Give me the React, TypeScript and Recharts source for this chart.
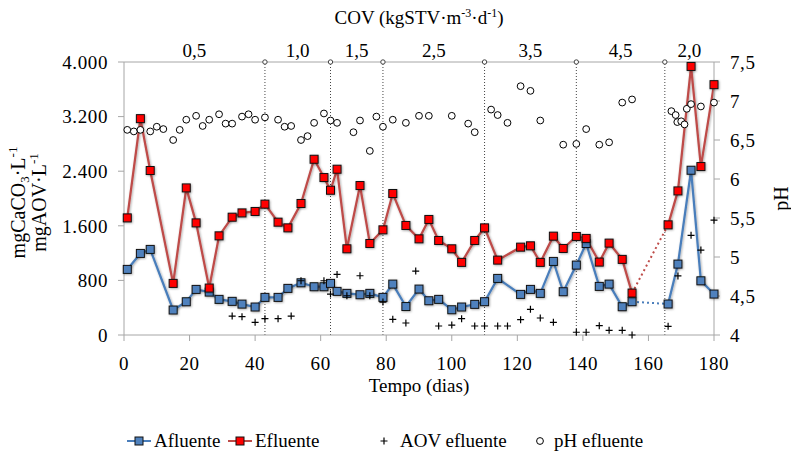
import React from "react";
import {
  ComposedChart,
  Line,
  Scatter,
  XAxis,
  YAxis,
  ReferenceLine,
  ReferenceDot,
  Label,
} from "recharts";

const FONT = "Liberation Serif, serif";

// sampling days for afluente / efluente alkalinity
const sampleDays = [
  1, 5, 8, 15, 19, 22, 26, 29, 33, 36, 40, 43, 47, 50, 54, 58, 61, 63, 65, 68,
  72, 75, 79, 82, 86, 90, 93, 96, 100, 103, 107, 110, 114, 121, 124, 127, 131,
  134, 138, 141, 145, 148, 152, 155, 166, 169, 173, 176, 180,
];

const afluente = [
  961, 1195, 1254, 366, 487, 668, 629, 522, 493, 453, 410, 551, 551, 683, 765,
  707, 707, 756, 639, 610, 590, 610, 551, 746, 417, 673, 502, 522, 370, 410,
  449, 488, 829, 595, 668, 610, 1078, 634, 1024, 1341, 712, 746, 414, 488, 454,
  1039, 2414, 794, 600,
];

const efluente = [
  1716, 3170, 2410, 756, 2155, 1643, 688, 1453, 1726, 1789, 1810, 1917, 1653,
  1570, 1927, 2575, 2307, 2121, 2429, 1263, 2190, 1341, 1541, 2073, 1605, 1409,
  1693, 1385, 1263, 1064, 1385, 1570, 1097, 1287, 1307, 1064, 1448, 1268, 1444,
  1415, 1068, 1346, 1108, 614, 1614, 2111, 3935, 2468, 3668,
];

// volatile acids in the effluent
const aovDays = [
  33, 36, 40, 43, 47, 51, 54, 61, 63, 65, 68, 72, 75, 79, 82, 86, 89, 96, 100,
  103, 107, 110, 114, 117, 121, 124, 127, 131, 138, 141, 145, 148, 152, 155,
  166, 169, 173, 176, 180,
];
const aovValues = [
  278, 268, 186, 239, 239, 278, 795, 795, 600, 888, 575, 868, 575, 483, 230,
  176, 936, 132, 146, 239, 132, 132, 132, 132, 224, 376, 249, 186, 40, 40, 136,
  69, 69, 0, 127, 865, 1460, 1244, 1683,
];

// effluent pH
const phDays = [
  1, 3, 5, 8, 10, 12, 15, 17, 19, 22, 24, 26, 29, 31, 33, 36, 38, 40, 43, 47,
  49, 51, 54, 56, 58, 61, 63, 65, 70, 72, 75, 77, 79, 82, 86, 90, 93, 100, 105,
  107, 112, 114, 117, 121, 124, 127, 134, 138, 141, 145, 148, 152, 155, 167,
  168.3, 168.8, 170, 171, 171.7, 173, 176, 180,
];
const phValues = [
  6.63, 6.61, 6.63, 6.61, 6.67, 6.64, 6.5, 6.63, 6.76, 6.81, 6.68, 6.76, 6.83,
  6.71, 6.71, 6.8, 6.83, 6.76, 6.79, 6.76, 6.67, 6.68, 6.5, 6.55, 6.72, 6.84,
  6.75, 6.72, 6.6, 6.75, 6.36, 6.8, 6.67, 6.76, 6.72, 6.81, 6.81, 6.81, 6.71,
  6.6, 6.89, 6.82, 6.72, 7.19, 7.13, 6.75, 6.44, 6.45, 6.64, 6.44, 6.47, 6.98,
  7.02, 6.87, 6.82, 6.73, 6.74, 6.7, 6.9, 6.96, 6.93, 6.98,
];

// organic loading phases (COV, kgSTV/m3/d)
const covBounds = [43, 63, 79, 110, 138, 165];
const covLabels = ["0,5", "1,0", "1,5", "2,5", "3,5", "4,5", "2,0"];

const dayTicks = [0, 20, 40, 60, 80, 100, 120, 140, 160, 180];
const concTicks = [0, 800, 1600, 2400, 3200, 4000];
const phTicks = [4, 4.5, 5, 5.5, 6, 6.5, 7, 7.5];

const GAP_FROM = 155;
const GAP_TO = 166;

const rows = sampleDays.map((day, i) => ({
  day,
  afl: afluente[i],
  efl: efluente[i],
}));
const beforeGap = rows.filter((r) => r.day <= GAP_FROM);
const afterGap = rows.filter((r) => r.day >= GAP_TO);
const gapRows = [beforeGap[beforeGap.length - 1], afterGap[0]];

const aovData = aovDays.map((day, i) => ({ day, aov: aovValues[i] }));
const phData = phDays.map((day, i) => ({ day, ph: phValues[i] }));

// phase names sit in the middle of each phase
const phaseEdges = [0, ...covBounds, 180];
const covCenters = covLabels.map((_, i) => (phaseEdges[i] + phaseEdges[i + 1]) / 2);

const BLUE_LINE = "#4a7ebb";
const BLUE_FILL = "#4f81bd";
const RED_LINE = "#be4b48";
const RED_FILL = "#ff0000";
const AXIS = "#a6a6a6";

const fmtConc = (v: number) =>
  v >= 1000 ? `${Math.floor(v / 1000)}.${String(v % 1000).padStart(3, "0")}` : String(v);
const fmtPh = (v: number) => String(v).replace(".", ",");

const squareDot = (fill: string) => (props: any) => {
  const { cx, cy, index } = props;
  if (cx == null || cy == null) return <g key={`n${index}`} />;
  return (
    <rect
      key={`sq${index}`}
      x={cx - 4}
      y={cy - 4}
      width={8}
      height={8}
      fill={fill}
      stroke="#111"
      strokeWidth={1}
      filter="url(#soft)"
    />
  );
};

const PlusShape = (props: any) => {
  const { cx, cy } = props;
  return (
    <path
      d={`M${cx - 3.5},${cy}H${cx + 3.5}M${cx},${cy - 3.5}V${cy + 3.5}`}
      stroke="#000"
      strokeWidth={1.2}
    />
  );
};

const CircleShape = (props: any) => {
  const { cx, cy } = props;
  return <circle cx={cx} cy={cy} r={3.4} fill="#fff" stroke="#000" strokeWidth={1} />;
};

const tickStyle = { fontFamily: FONT, fontSize: 19, fill: "#000", letterSpacing: 0.6 };

const CovTitle = (props: any) => {
  const { x, width } = props.viewBox;
  return (
    <text x={x + width / 2} y={24} textAnchor="middle" fontFamily={FONT} fontSize={19}>
      COV (kgSTV·m<tspan dy={-7} fontSize={12}>-3</tspan>
      <tspan dy={7}>·d</tspan>
      <tspan dy={-7} fontSize={12}>-1</tspan>
      <tspan dy={7}>)</tspan>
    </text>
  );
};

const TimeTitle = (props: any) => {
  const { x, width, y } = props.viewBox;
  return (
    <text x={x + width / 2} y={y + 57} textAnchor="middle" fontFamily={FONT} fontSize={19}>
      Tempo (dias)
    </text>
  );
};

const ConcTitle = (props: any) => {
  const { y, height } = props.viewBox;
  const cy = y + height / 2 + 4;
  const line = (x: number, body: React.ReactNode) => (
    <text
      x={x}
      y={cy}
      transform={`rotate(-90, ${x}, ${cy})`}
      textAnchor="middle"
      fontFamily={FONT}
      fontSize={20}
    >
      {body}
    </text>
  );
  return (
    <g>
      {line(
        25,
        <>
          mgCaCO<tspan dy={4} fontSize={13}>3</tspan>
          <tspan dy={-4}>·L</tspan>
          <tspan dy={-8} fontSize={13}>-1</tspan>
        </>
      )}
      {line(
        46,
        <>
          mgAOV·L<tspan dy={-8} fontSize={13}>-1</tspan>
        </>
      )}
    </g>
  );
};

const PhTitle = (props: any) => {
  const { x, y, height } = props.viewBox;
  const cx = x + 74;
  const cy = y + height / 2;
  return (
    <text
      x={cx}
      y={cy}
      transform={`rotate(-90, ${cx}, ${cy})`}
      textAnchor="middle"
      fontFamily={FONT}
      fontSize={20}
    >
      pH
    </text>
  );
};

const LegendIcon = ({ line, fill }: { line: string; fill: string }) => (
  <svg width={24} height={12} style={{ marginRight: 3 }}>
    <line x1={0} y1={6} x2={24} y2={6} stroke={line} strokeWidth={2} />
    <rect x={8} y={2} width={8} height={8} fill={fill} stroke="#111" />
  </svg>
);

export default function App() {
  const legendItem: React.CSSProperties = {
    position: "absolute",
    top: 430,
    display: "flex",
    alignItems: "center",
    fontFamily: FONT,
    fontSize: 19,
    color: "#000",
    whiteSpace: "nowrap",
  };

  return (
    <div style={{ position: "absolute", left: 0, top: 0, width: 791, height: 453, background: "#fff" }}>
      <ComposedChart
        width={791}
        height={453}
        margin={{ top: 0, right: 0, bottom: 0, left: 0 }}
      >
        <defs>
          <filter id="soft" x="-50%" y="-50%" width="200%" height="200%">
            <feDropShadow dx={0.8} dy={0.8} stdDeviation={0.8} floodColor="#000" floodOpacity={0.35} />
          </filter>
        </defs>
        <XAxis
          dataKey="day"
          type="number"
          domain={[0, 180]}
          ticks={dayTicks}
          height={118}
          stroke={AXIS}
          tickSize={6}
          tickMargin={16}
          tick={tickStyle}
        >
          <Label content={TimeTitle} />
        </XAxis>
        <XAxis
          xAxisId="top"
          orientation="top"
          dataKey="day"
          type="number"
          domain={[0, 180]}
          height={62}
          stroke={AXIS}
          tick={false}
          tickLine={false}
        >
          <Label content={CovTitle} />
        </XAxis>
        <YAxis
          yAxisId="conc"
          domain={[0, 4000]}
          ticks={concTicks}
          tickFormatter={fmtConc}
          width={124}
          stroke={AXIS}
          tickSize={6}
          tickMargin={10}
          tick={tickStyle}
        >
          <Label content={ConcTitle} />
        </YAxis>
        <YAxis
          yAxisId="ph"
          orientation="right"
          domain={[4, 7.5]}
          ticks={phTicks}
          tickFormatter={fmtPh}
          width={77}
          stroke={AXIS}
          tickSize={6}
          tickMargin={10}
          tick={tickStyle}
        >
          <Label content={PhTitle} />
        </YAxis>

        {covBounds.map((b) => (
          <ReferenceLine
            key={`l${b}`}
            x={b}
            yAxisId="conc"
            stroke="#444"
            strokeDasharray="1 2"
          />
        ))}
        {covBounds.map((b) => (
          <ReferenceDot
            key={`d${b}`}
            x={b}
            y={4000}
            yAxisId="conc"
            r={2.2}
            fill="#fff"
            stroke="#444"
            strokeWidth={1}
            ifOverflow="visible"
          />
        ))}
        {covCenters.map((c, i) => (
          <ReferenceDot
            key={`c${i}`}
            x={c}
            y={4000}
            yAxisId="conc"
            r={0}
            fill="none"
            stroke="none"
            ifOverflow="visible"
            label={{
              value: covLabels[i],
              position: "top",
              offset: 5,
              fontFamily: FONT,
              fontSize: 19,
              fill: "#000",
            }}
          />
        ))}

        <Line
          data={gapRows}
          dataKey="afl"
          yAxisId="conc"
          stroke={BLUE_LINE}
          strokeWidth={2}
          strokeDasharray="2 3"
          dot={false}
          isAnimationActive={false}
        />
        <Line
          data={gapRows}
          dataKey="efl"
          yAxisId="conc"
          stroke={RED_LINE}
          strokeWidth={2}
          strokeDasharray="2 3"
          dot={false}
          isAnimationActive={false}
        />
        {[beforeGap, afterGap].map((part, k) => (
          <Line
            key={`afl${k}`}
            data={part}
            dataKey="afl"
            yAxisId="conc"
            type="linear"
            stroke={BLUE_LINE}
            strokeWidth={2.25}
            dot={squareDot(BLUE_FILL)}
            filter="url(#soft)"
            isAnimationActive={false}
          />
        ))}
        {[beforeGap, afterGap].map((part, k) => (
          <Line
            key={`efl${k}`}
            data={part}
            dataKey="efl"
            yAxisId="conc"
            type="linear"
            stroke={RED_LINE}
            strokeWidth={2.25}
            dot={squareDot(RED_FILL)}
            filter="url(#soft)"
            isAnimationActive={false}
          />
        ))}
        <Scatter
          data={aovData}
          dataKey="aov"
          yAxisId="conc"
          shape={PlusShape}
          isAnimationActive={false}
        />
        <Scatter
          data={phData}
          dataKey="ph"
          yAxisId="ph"
          shape={CircleShape}
          isAnimationActive={false}
        />
      </ComposedChart>

      <div style={{ ...legendItem, left: 127 }}>
        <LegendIcon line={BLUE_LINE} fill={BLUE_FILL} />
        Afluente
      </div>
      <div style={{ ...legendItem, left: 228 }}>
        <LegendIcon line={RED_LINE} fill={RED_FILL} />
        Efluente
      </div>
      <div style={{ ...legendItem, left: 378 }}>
        <svg width={12} height={12} style={{ marginRight: 10 }}>
          <path d="M2.5,6H9.5M6,2.5V9.5" stroke="#000" strokeWidth={1.2} />
        </svg>
        AOV efluente
      </div>
      <div style={{ ...legendItem, left: 534 }}>
        <svg width={12} height={12} style={{ marginRight: 8 }}>
          <circle cx={6} cy={6} r={3.4} fill="#fff" stroke="#000" />
        </svg>
        pH efluente
      </div>
    </div>
  );
}
